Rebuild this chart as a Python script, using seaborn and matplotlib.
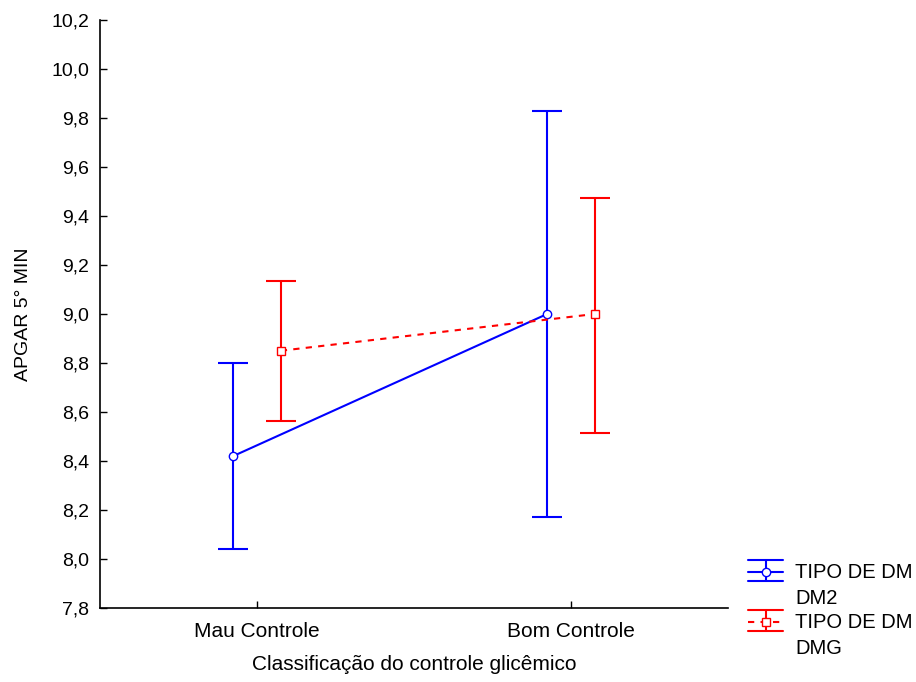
import numpy as np
import pandas as pd
import matplotlib
matplotlib.use('Agg')
import matplotlib.pyplot as plt
import seaborn as sns
from matplotlib.lines import Line2D
from matplotlib.ticker import FuncFormatter

# Data (means and confidence limits)
categories = ['Mau Controle', 'Bom Controle']
groups = ['DM2', 'DMG']
means_dm2 = [8.42, 9.00]
lower_dm2 = [8.04, 8.17]
upper_dm2 = [8.80, 9.83]
means_dmg = [8.85, 9.00]
lower_dmg = [8.565, 8.515]
upper_dmg = [9.135, 9.475]
y_ticks = [7.8, 8.0, 8.2, 8.4, 8.6, 8.8, 9.0, 9.2, 9.4, 9.6, 9.8, 10.0, 10.2]

colors = {'DM2': '#0000FF', 'DMG': '#FF0000'}
offsets = {'DM2': -0.076, 'DMG': 0.076}

sns.set_style('white')
plt.rcParams['font.family'] = ['Liberation Sans', 'DejaVu Sans']
plt.rcParams['text.color'] = 'black'
plt.rcParams['axes.labelcolor'] = 'black'
plt.rcParams['xtick.color'] = 'black'
plt.rcParams['ytick.color'] = 'black'

rows = []
for grp, means, lo, hi in [('DM2', means_dm2, lower_dm2, upper_dm2),
                           ('DMG', means_dmg, lower_dmg, upper_dmg)]:
    for i, cat in enumerate(categories):
        rows.append({'grupo': grp, 'cat': cat, 'x': i + offsets[grp],
                     'mean': means[i], 'lo': lo[i], 'hi': hi[i]})
df = pd.DataFrame(rows)

fig = plt.figure(figsize=(9.16, 6.82), dpi=100)
ax = fig.add_axes([100 / 916, 74 / 682, 628 / 916, 588 / 682])

# Error bars
for grp in groups:
    d = df[df['grupo'] == grp]
    ax.errorbar(d['x'], d['mean'], yerr=[d['mean'] - d['lo'], d['hi'] - d['mean']],
                fmt='none', ecolor=colors[grp], elinewidth=1.5, capsize=11,
                capthick=1.5, zorder=2)

# Means connected by lines
n_before = len(ax.lines)
sns.lineplot(data=df, x='x', y='mean', hue='grupo', style='grupo',
             palette=colors, dashes={'DM2': '', 'DMG': (3, 3)},
             markers={'DM2': 'o', 'DMG': 's'}, markersize=6,
             linewidth=1.5, legend=False, sort=False, ax=ax, zorder=3)
for line in ax.lines[n_before:]:
    line.set_markerfacecolor('white')
    line.set_markeredgecolor(line.get_color())
    line.set_markeredgewidth(1.0)

ax.set_xlim(-0.5, 1.5)
ax.set_ylim(7.8, 10.2)
ax.set_xticks(range(len(categories)))
ax.set_xticklabels(categories)
ax.set_yticks(y_ticks)
ax.yaxis.set_major_formatter(FuncFormatter(lambda v, p: f'{v:.1f}'.replace('.', ',')))
ax.tick_params(axis='both', direction='in', length=5, width=1, labelsize=14,
               pad=8, bottom=True, left=True, color='black', labelcolor='black')
ax.tick_params(axis='x', labelsize=15, pad=10)
ax.set_xlabel('Classificação do controle glicêmico', fontsize=15, labelpad=10)
ax.set_ylabel('APGAR 5° MIN', fontsize=14, labelpad=14)
for side in ['top', 'right']:
    ax.spines[side].set_visible(False)
for side in ['left', 'bottom']:
    ax.spines[side].set_color('black')
    ax.spines[side].set_linewidth(1.2)

# Legend drawn in pixel coordinates on an overlay
lax = fig.add_axes([0, 0, 1, 1])
lax.set_xlim(0, 916)
lax.set_ylim(682, 0)
lax.axis('off')
legend_items = [('DM2', 'o', '-', 572, 'TIPO DE DM\nDM2'),
                ('DMG', 's', (0, (3, 3)), 622, 'TIPO DE DM\nDMG')]
for grp, mk, ls, yc, label in legend_items:
    c = colors[grp]
    lax.add_line(Line2D([748, 783], [yc - 12, yc - 12], color=c, lw=1.5))
    lax.add_line(Line2D([748, 783], [yc + 9, yc + 9], color=c, lw=1.5))
    lax.add_line(Line2D([766, 766], [yc - 12, yc + 9], color=c, lw=1.5))
    lax.add_line(Line2D([748, 783], [yc, yc], color=c, lw=1.5, linestyle=ls))
    lax.add_line(Line2D([766], [yc], color=c, marker=mk, markersize=6,
                        markerfacecolor='white', markeredgecolor=c))
    lax.text(795, yc, label.split('\n')[0], fontsize=14.5, va='center', ha='left')
    lax.text(795, yc + 27, label.split('\n')[1], fontsize=14.5, va='center', ha='left')

fig.savefig('out.png', dpi=100)
